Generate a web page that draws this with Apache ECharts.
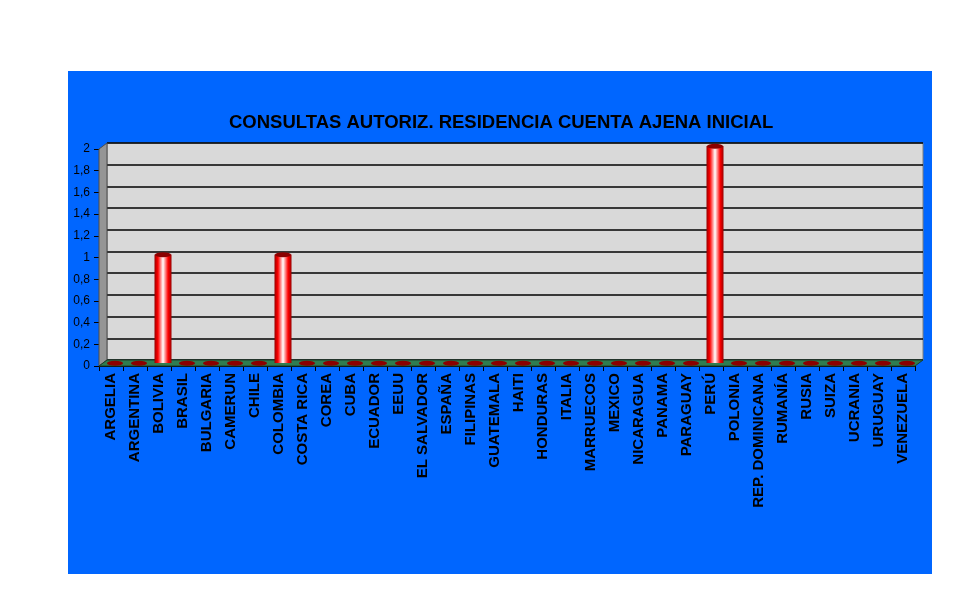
<!DOCTYPE html>
<html>
<head>
<meta charset="utf-8">
<script src="https://cdn.jsdelivr.net/npm/echarts@6/dist/echarts.min.js"></script>
<style>
  html, body { margin: 0; padding: 0; background: #ffffff; }
  #panel { position: absolute; left: 68px; top: 71px; width: 864px; height: 503px; background: #0066ff; }
  #chart { position: absolute; left: 0; top: 0; width: 969px; height: 604px; }
</style>
</head>
<body>
<div id="panel"></div>
<div id="chart"></div>
<script>
// datos
const countries = ["ARGELIA", "ARGENTINA", "BOLIVIA", "BRASIL", "BULGARIA", "CAMERUN", "CHILE",
  "COLOMBIA", "COSTA RICA", "COREA", "CUBA", "ECUADOR", "EEUU", "EL SALVADOR", "ESPAÑA",
  "FILIPINAS", "GUATEMALA", "HAITI", "HONDURAS", "ITALIA", "MARRUECOS", "MEXICO", "NICARAGUA",
  "PANAMA", "PARAGUAY", "PERÚ", "POLONIA", "REP. DOMINICANA", "RUMANÍA", "RUSIA", "SUIZA",
  "UCRANIA", "URUGUAY", "VENEZUELA"];
const consultas = [0, 0, 1, 0, 0, 0, 0, 1, 0, 0, 0, 0, 0, 0, 0, 0, 0, 0, 0, 0, 0, 0, 0, 0, 0, 2,
  0, 0, 0, 0, 0, 0, 0, 0];
const yMin = 0, yMax = 2, yStep = 0.2;
const title = "CONSULTAS AUTORIZ. RESIDENCIA CUENTA AJENA INICIAL";

// caja 3D: frente y desplazamiento de profundidad
const W = 969, H = 604;
const FX0 = 99, FX1 = 915, FY0 = 149, FY1 = 366, DX = 8, DY = 6;

const chart = echarts.init(document.getElementById("chart"), null, { renderer: "canvas" });

const font = "Liberation Sans, Arial, sans-serif";
const fmt = v => String(Math.round(v * 10) / 10).replace(".", ",");

const option = {
  backgroundColor: "transparent",
  animation: false,
  title: {
    text: title,
    left: 224, top: 108,
    textStyle: { fontFamily: font, fontSize: 18.5, fontWeight: "bold", color: "#000" }
  },
  grid: [
    // frente (ejes)
    { left: FX0, right: W - FX1, top: FY0, bottom: H - FY1 },
    // centro (barras)
    { left: FX0 + DX / 2, right: W - FX1 - DX / 2, top: FY0 - DY / 2, bottom: H - FY1 + DY / 2 },
    // pared del fondo
    { left: FX0 + DX, right: W - FX1 - DX, top: FY0 - DY, bottom: H - FY1 + DY,
      show: true, backgroundColor: "#d9d9d9", borderColor: "#7f7f7f", borderWidth: 1, z: 0 }
  ],
  xAxis: [
    { gridIndex: 0, type: "category", data: countries,
      axisLine: { lineStyle: { color: "#000" } },
      axisTick: { show: true, length: 5, lineStyle: { color: "#000" } },
      axisLabel: { interval: 0, rotate: 90, margin: 7, color: "#000",
        fontFamily: font, fontSize: 15, fontWeight: "bold" } },
    { gridIndex: 1, type: "category", data: countries, show: false },
    { gridIndex: 2, type: "category", data: countries, show: false }
  ],
  yAxis: [
    { gridIndex: 0, type: "value", min: yMin, max: yMax, interval: yStep,
      axisLine: { show: true, lineStyle: { color: "#000" } },
      axisTick: { show: true, length: 5, lineStyle: { color: "#000" } },
      splitLine: { show: false },
      axisLabel: { formatter: fmt, color: "#000", fontFamily: font, fontSize: 12, margin: 9 } },
    { gridIndex: 1, type: "value", min: yMin, max: yMax, interval: yStep, show: false },
    { gridIndex: 2, type: "value", min: yMin, max: yMax, interval: yStep,
      axisLine: { show: false }, axisTick: { show: false }, axisLabel: { show: false },
      splitLine: { show: true, lineStyle: { color: "#000", width: 1.5 } } }
  ],
  graphic: [
    { type: "polygon", z: 1,
      shape: { points: [[FX0, FY0], [FX0 + DX, FY0 - DY], [FX0 + DX, FY1 - DY], [FX0, FY1]] },
      style: { fill: "#959595", stroke: "#4d4d4d", lineWidth: 1 } },
    { type: "polygon", z: 1,
      shape: { points: [[FX0, FY1], [FX0 + DX, FY1 - DY], [FX1 + DX, FY1 - DY], [FX1, FY1]] },
      style: { fill: "#2f7d50", stroke: "#1b3d2a", lineWidth: 1 } }
  ],
  series: [
    { type: "bar", xAxisIndex: 1, yAxisIndex: 1, data: consultas, barWidth: 17, z: 5,
      itemStyle: {
        color: new echarts.graphic.LinearGradient(0, 0, 1, 0, [
          { offset: 0, color: "#9a0000" },
          { offset: 0.2, color: "#ff0000" },
          { offset: 0.5, color: "#ffffff" },
          { offset: 0.8, color: "#ff0000" },
          { offset: 1, color: "#9a0000" }
        ])
      } },
    { type: "pictorialBar", xAxisIndex: 1, yAxisIndex: 1, data: consultas, z: 6,
      symbol: "circle", symbolSize: [16, 5], symbolPosition: "end", symbolOffset: [0, "-50%"],
      itemStyle: { color: "#8b0000", borderColor: "#d40000", borderWidth: 1 } }
  ]
};

chart.setOption(option);
</script>
</body>
</html>
